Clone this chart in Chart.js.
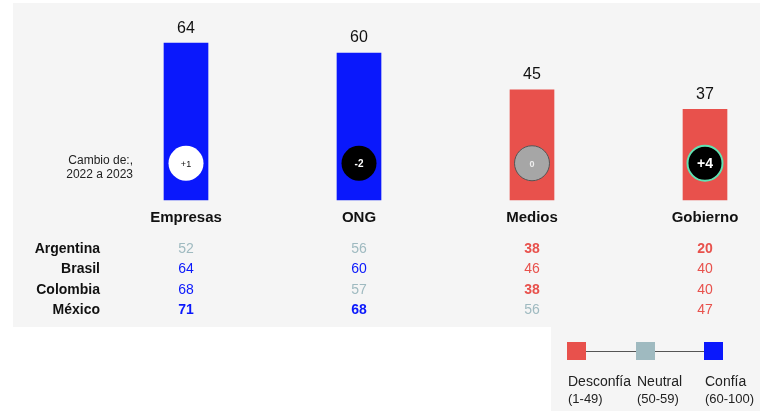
<!DOCTYPE html>
<html lang="es">
<head>
<meta charset="UTF-8">
<title>Confianza en instituciones</title>
<script src="https://cdn.jsdelivr.net/npm/chart.js@4.4.0/dist/chart.umd.min.js"></script>
<style>
  body{margin:0; background:#fff;}
  #wrap{width:769px; height:411px;}
</style>
</head>
<body>
<div id="wrap"><canvas id="trust" width="769" height="411"></canvas></div>
<script>
// datos
const instituciones = ["Empresas", "ONG", "Medios", "Gobierno"];
const promedio = [64, 60, 45, 37];
const cambio = ["+1", "-2", "0", "+4"];
const paises = ["Argentina", "Brasil", "Colombia", "México"];
const porPais = [
  [52, 56, 38, 20],   // Argentina
  [64, 60, 46, 40],   // Brasil
  [68, 57, 38, 40],   // Colombia
  [71, 68, 56, 47]    // México
];
// valores en negrita
const negrita = [
  [false, false, true, true],
  [false, false, false, false],
  [false, false, true, false],
  [true, true, false, false]
];
const leyenda = ["Desconfía", "Neutral", "Confía"];
const rangos = ["(1-49)", "(50-59)", "(60-100)"];

const ROJO = "#e8514c", GRIS = "#9fbac0", AZUL = "#0a18fc";
const colorDe = v => v >= 60 ? AZUL : v >= 50 ? GRIS : ROJO;
const FONT = "'Liberation Sans', Arial, Helvetica, sans-serif";

// estilo de los circulos de cambio
const circulos = [
  {fill:"#ffffff", stroke:null, txt:"#111", font:"9px"},
  {fill:"#000000", stroke:null, txt:"#fff", font:"bold 10px"},
  {fill:"#a6a6a6", stroke:"#555", txt:"#eee", font:"bold 9px"},
  {fill:"#000000", stroke:"#5fe3b3", txt:"#fff", font:"bold 14px"}
];

const dibujo = {
  id:"dibujo",
  beforeDraw(chart){
    const c = chart.ctx;
    c.save();
    c.fillStyle = "#fff";
    c.fillRect(0, 0, chart.width, chart.height);
    c.fillStyle = "#f5f5f5";
    c.fillRect(13, 3, 747, 324);
    c.fillRect(551, 327, 209, 84);
    c.restore();
  },
  afterDatasetsDraw(chart){
    const c = chart.ctx;
    const meta = chart.getDatasetMeta(0);
    const y = chart.scales.y;
    c.save();
    c.textAlign = "center";
    c.textBaseline = "middle";
    meta.data.forEach((bar, i) => {
      // valor arriba
      c.fillStyle = "#111";
      c.font = "16px " + FONT;
      c.fillText(promedio[i], bar.x, bar.y - 15);
      // circulo de cambio
      const st = circulos[i];
      const cy = y.getPixelForValue(15);
      c.beginPath();
      c.arc(bar.x, cy, 17.5, 0, Math.PI * 2);
      c.fillStyle = st.fill;
      c.fill();
      if(st.stroke){
        c.lineWidth = i === 3 ? 2 : 1;
        c.strokeStyle = st.stroke;
        c.stroke();
      }
      c.fillStyle = st.txt;
      c.font = st.font + " " + FONT;
      c.fillText(cambio[i], bar.x, cy + 1);
      // etiqueta de categoria
      c.fillStyle = "#111";
      c.font = "bold 15px " + FONT;
      c.fillText(instituciones[i], bar.x, 218);
      // tabla por pais
      porPais.forEach((fila, r) => {
        const v = fila[i];
        c.fillStyle = colorDe(v);
        c.font = (negrita[r][i] ? "bold " : "") + "14px " + FONT;
        c.fillText(v, bar.x, 249 + r * 20.4);
      });
    });
    // nombres de paises
    c.textAlign = "right";
    c.fillStyle = "#111";
    c.font = "bold 14px " + FONT;
    paises.forEach((p, r) => c.fillText(p, 100, 249 + r * 20.4));
    // texto cambio
    c.font = "12px " + FONT;
    c.fillStyle = "#222";
    c.fillText("Cambio de:,", 133, 161);
    c.fillText("2022 a 2023", 133, 175);
    // leyenda
    const lx = [567, 636, 704];
    const cols = [ROJO, GRIS, AZUL];
    c.strokeStyle = "#555";
    c.lineWidth = 1;
    c.beginPath();
    c.moveTo(576, 351.5);
    c.lineTo(713, 351.5);
    c.stroke();
    c.textAlign = "left";
    lx.forEach((x, k) => {
      c.fillStyle = cols[k];
      c.fillRect(x, 342, 19, 18);
      c.fillStyle = "#222";
      c.font = "14px " + FONT;
      c.fillText(leyenda[k], x + 1, 382);
      c.font = "13px " + FONT;
      c.fillText(rangos[k], x + 1, 399);
    });
    c.restore();
  }
};

new Chart(document.getElementById("trust"), {
  type:"bar",
  data:{
    labels:instituciones,
    datasets:[{
      data:promedio,
      backgroundColor:promedio.map(colorDe),
      barThickness:44,
      borderWidth:0,
      clip:false
    }]
  },
  options:{
    responsive:false,
    animation:false,
    layout:{padding:{left:186, right:64, top:4, bottom:211}},
    scales:{
      x:{display:false, offset:false, grid:{display:false}},
      y:{display:false, min:0, max:80}
    },
    plugins:{legend:{display:false}, tooltip:{enabled:false}}
  },
  plugins:[dibujo]
});
</script>
</body>
</html>
